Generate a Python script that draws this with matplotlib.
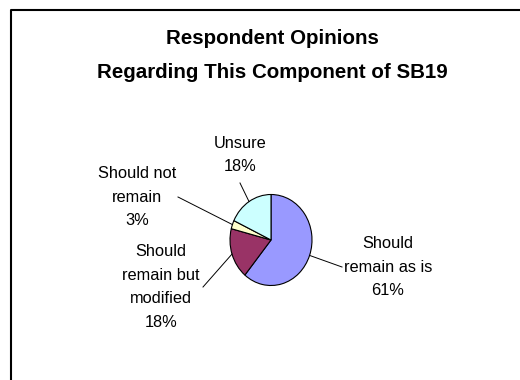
import numpy as np
import matplotlib
matplotlib.use("Agg")
import matplotlib.pyplot as plt
from matplotlib.lines import Line2D

plt.rcParams['font.family'] = ['Liberation Sans', 'DejaVu Sans']

# data
labels = ["Should\nremain as is\n61%", "Should\nremain but\nmodified\n18%",
          "Should not\nremain\n3%", "Unsure\n18%"]
values = [61, 18, 3, 18]
colors = ["#9999FF", "#993366", "#FFFFCC", "#CCFFFF"]

# label centres (pixels from top-left) and where the leader line ends
label_pos = [(388, 267), (161, 287), (137, 197), (240, 155)]
line_end = [(342, 267), (203, 287), (178, 197), (240, 183)]

W, H = 520, 380
fig = plt.figure(figsize=(W / 100, H / 100), dpi=100)

# frame round the chart
frame = fig.add_axes([0, 0, 1, 1])
frame.set_xlim(0, W)
frame.set_ylim(H, 0)
frame.axis("off")
frame.plot([11, 11, W + 5], [H + 5, 10, 10], color="black", lw=1.5)

fig.text(272, H - 38, "Respondent Opinions", transform=None,
         ha="center", va="center", fontsize=14.8, fontweight="bold")
fig.text(272, H - 72, "Regarding This Component of SB19", transform=None,
         ha="center", va="center", fontsize=14.8, fontweight="bold")

# pie axes (slightly taller than wide, like the original)
cx, cy, rx, ry = 271, 240, 41, 45.5
ax = fig.add_axes([(cx - rx) / W, (H - cy - ry) / H, 2 * rx / W, 2 * ry / H])
wedges, _ = ax.pie(values, colors=colors, startangle=90, counterclock=False,
                   radius=1, wedgeprops=dict(edgecolor="black", linewidth=0.8))
ax.set_aspect("auto")
ax.set_xlim(-1, 1)
ax.set_ylim(-1, 1)

for w, lab, (lx, ly), (ex, ey) in zip(wedges, labels, label_pos, line_end):
    mid = np.deg2rad((w.theta1 + w.theta2) / 2)
    px, py = ax.transData.transform((np.cos(mid), np.sin(mid)))
    fig.add_artist(Line2D([px, ex], [py, H - ey], color="black", lw=0.7,
                          transform=None))
    fig.text(lx, H - ly, lab, transform=None, ha="center", va="center",
             fontsize=11.8, linespacing=1.7)

fig.savefig("out.png", dpi=100)
